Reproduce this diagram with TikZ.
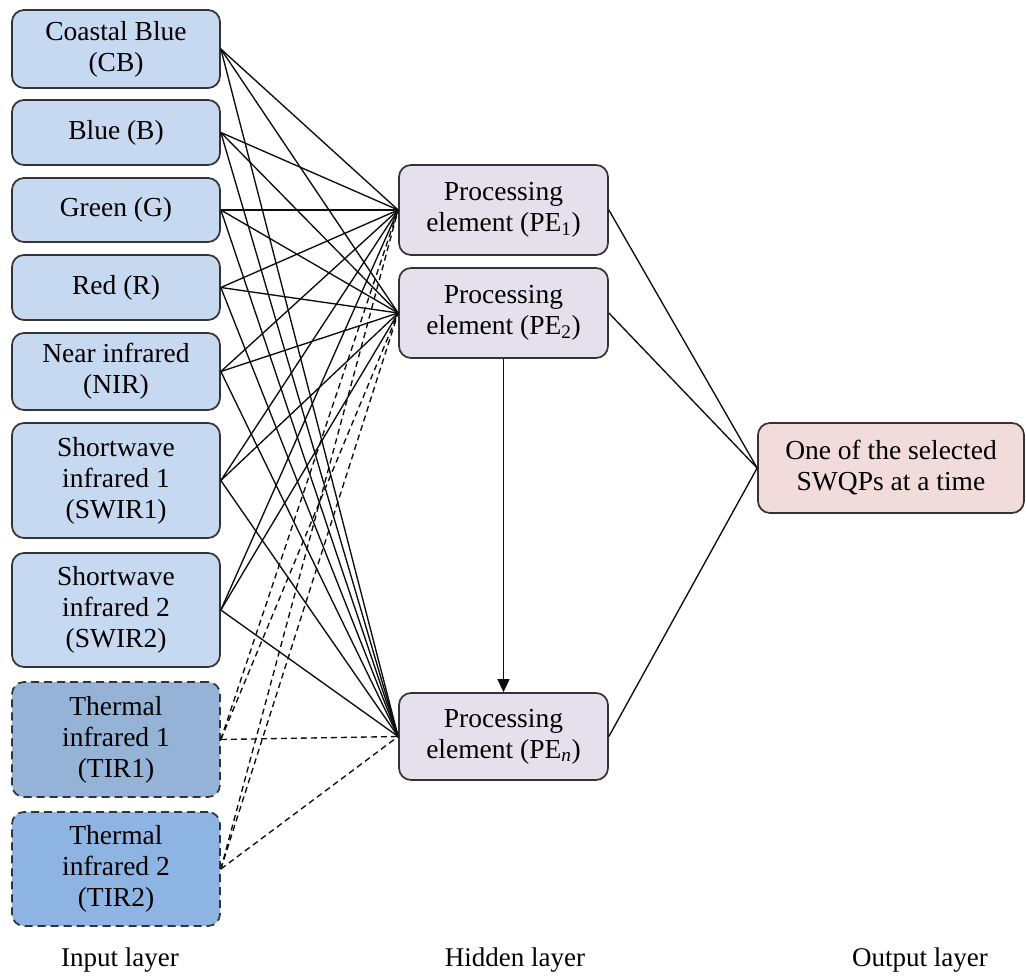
\documentclass[tikz,border=0pt]{standalone}
\usepackage{fontspec}
\setmainfont{Liberation Serif}
\usetikzlibrary{arrows.meta}
\definecolor{inblue}{HTML}{C6D9F1}
\definecolor{tirone}{HTML}{95B3D7}
\definecolor{tirtwo}{HTML}{8DB4E3}
\definecolor{hidfill}{HTML}{E5E0EC}
\definecolor{outfill}{HTML}{F2DCDB}
\definecolor{edgegray}{HTML}{333333}
\begin{document}
\begin{tikzpicture}[x=1pt,y=-1pt,
  box/.style={draw=edgegray, line width=1.7pt, rounded corners=12pt, align=center,
    inner sep=0pt, font=\fontsize{27.5}{31}\selectfont},
  inbox/.style={box, fill=inblue, minimum width=208pt},
  tirbox/.style={box, minimum width=208pt, dash pattern=on 8pt off 5pt},
  hidbox/.style={box, fill=hidfill, minimum width=209pt},
  link/.style={line width=1.35pt, draw=black!95},
  dlink/.style={link, dash pattern=on 6pt off 4pt},
  layerlabel/.style={font=\fontsize{27}{30}\selectfont}]
\useasboundingbox (0,0) rectangle (1026,979);

% input layer
\node[inbox, minimum height=78pt]  (cb)    at (116,49)    {Coastal Blue\\(CB)};
\node[inbox, minimum height=65pt]  (bl)    at (116,132.5) {Blue (B)};
\node[inbox, minimum height=64pt]  (gr)    at (116,210)   {Green (G)};
\node[inbox, minimum height=65pt]  (rd)    at (116,287.5) {Red (R)};
\node[inbox, minimum height=77pt]  (nir)   at (116,371.5) {Near infrared\\(NIR)};
\node[inbox, minimum height=115pt] (swa)   at (116,480.5) {Shortwave\\infrared 1\\(SWIR1)};
\node[inbox, minimum height=114pt] (swb)   at (116,610)   {Shortwave\\infrared 2\\(SWIR2)};
\node[tirbox, fill=tirone, minimum height=115pt] (tira) at (116,739.5) {Thermal\\infrared 1\\(TIR1)};
\node[tirbox, fill=tirtwo, minimum height=114pt] (tirb) at (116,869)   {Thermal\\infrared 2\\(TIR2)};

% hidden layer
\node[hidbox, minimum height=90pt] (pea) at (503.5,210)   {Processing\\element (PE\textsubscript{1})};
\node[hidbox, minimum height=90pt] (peb) at (503.5,313)   {Processing\\element (PE\textsubscript{2})};
\node[hidbox, minimum height=87pt] (pen) at (503.5,736.5) {Processing\\element (PE\textsubscript{\textit{n}})};

% output layer
\node[box, fill=outfill, minimum width=266pt, minimum height=90pt] (out) at (891,468)
  {One of the selected\\SWQPs at a time};

% solid connections from the spectral bands
\foreach \s in {cb,bl,gr,rd,nir,swa,swb}
  \foreach \t in {pea,peb,pen}
    \draw[link] (\s.east) -- (\t.west);

% dashed connections from the thermal bands
\foreach \s in {tira,tirb}
  \foreach \t in {pea,peb,pen}
    \draw[dlink] (\s.east) -- (\t.west);

% hidden to output
\foreach \t in {pea,peb,pen}
  \draw[link] (\t.east) -- (out.west);

\draw[link, -{Triangle[length=13pt,width=12pt]}] (peb.south) -- (pen.north);

% layer captions
\node[layerlabel] (lin)  at (120,960) {Input layer};
\node[layerlabel] (lhid) at (515,960) {Hidden layer};
\node[layerlabel] (lout) at (920,960) {Output layer};
\end{tikzpicture}
\end{document}
